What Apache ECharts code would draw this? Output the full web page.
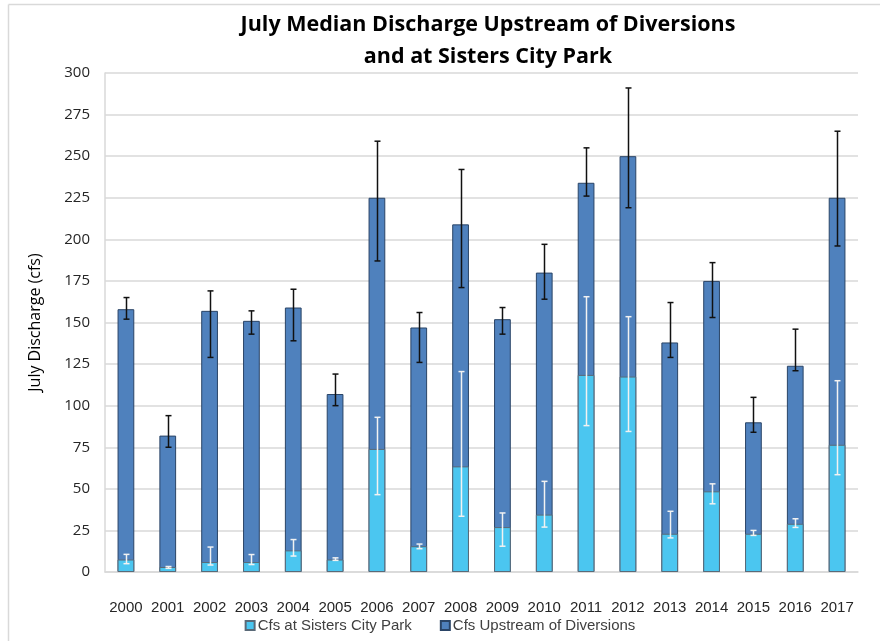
<!DOCTYPE html>
<html>
<head>
<meta charset="utf-8">
<script src="https://cdn.jsdelivr.net/npm/echarts@6/dist/echarts.min.js"></script>
<style>
html,body{margin:0;padding:0;background:#fff;}
#chart{width:880px;height:641px;}
</style>
</head>
<body>
<div id="chart"></div>
<script>
const years = ['2000','2001','2002','2003','2004','2005','2006','2007','2008','2009','2010','2011','2012','2013','2014','2015','2016','2017'];
const upstream = [158, 82, 157, 151, 159, 107, 225, 147, 209, 152, 180, 234, 250, 138, 175, 90, 124, 225];
const upstreamLow = [152, 75, 129, 143, 139, 100, 187, 126, 171, 143, 164, 226, 219, 129, 153, 84, 121, 196];
const upstreamHigh = [165, 94, 169, 157, 170, 119, 259, 156, 242, 159, 197, 255, 291, 162, 186, 105, 146, 265];
const sisters = [7.5, 3, 6, 6, 13, 7.5, 74, 15.5, 63.5, 27, 34.5, 118.5, 117.5, 23, 48.5, 23, 29, 76.5];
const sistersLow = [5, 2.2, 4.2, 4.5, 9.6, 7, 46.5, 14, 33.5, 15.5, 27, 88, 84.5, 20.5, 41, 22, 26.8, 58.5];
const sistersHigh = [10.6, 3.3, 15, 10.5, 19.5, 8.5, 93, 16.8, 120.5, 35.5, 54.5, 165.5, 153.5, 36.5, 53, 25, 32, 115];
const yTicks = [0, 25, 50, 75, 100, 125, 150, 175, 200, 225, 250, 275, 300];

const chart = echarts.init(document.getElementById('chart'));

function errBar(color) {
  return function (params, api) {
    const x = api.value(0);
    const lo = api.coord([x, api.value(1)]);
    const hi = api.coord([x, api.value(2)]);
    const cx = Math.round(lo[0]) + 0.5;
    const hw = 3;
    const style = { stroke: color, lineWidth: 1.5 };
    return {
      type: 'group',
      children: [
        { type: 'line', shape: { x1: cx, y1: hi[1], x2: cx, y2: lo[1] }, style: style },
        { type: 'line', shape: { x1: cx - hw, y1: hi[1], x2: cx + hw, y2: hi[1] }, style: style },
        { type: 'line', shape: { x1: cx - hw, y1: lo[1], x2: cx + hw, y2: lo[1] }, style: style }
      ]
    };
  };
}

const option = {
  backgroundColor: '#ffffff',
  animation: false,
  title: {
    text: 'July Median Discharge Upstream of Diversions\nand at Sisters City Park',
    left: 483,
    textAlign: 'center',
    top: 4,
    textStyle: {
      fontFamily: 'Open Sans',
      fontWeight: 'bold',
      fontSize: 21.5,
      lineHeight: 32,
      color: '#000'
    }
  },
  graphic: [
    { type: 'line', shape: { x1: 8.5, y1: 4.5, x2: 880, y2: 4.5 }, style: { stroke: '#D9D9D9', lineWidth: 1.5 } },
    { type: 'line', shape: { x1: 8.5, y1: 4.5, x2: 8.5, y2: 641 }, style: { stroke: '#D9D9D9', lineWidth: 1.5 } }
  ],
  legend: {
    data: ['Cfs at Sisters City Park', 'Cfs Upstream of Diversions'],
    bottom: 3,
    left: 'center',
    itemWidth: 9,
    itemHeight: 9,
    itemGap: 28,
    icon: 'rect',
    textStyle: { fontFamily: 'Liberation Sans', fontSize: 15, color: '#404040', padding: [0, 0, 0, -2] }
  },
  grid: { left: 105, right: 22, top: 73, bottom: 69, containLabel: false },
  xAxis: {
    type: 'category',
    data: years,
    axisLine: { show: true, lineStyle: { color: '#D9D9D9', width: 1.5 } },
    axisTick: { show: false },
    axisLabel: { interval: 0, fontFamily: 'Liberation Sans', fontSize: 15, color: '#262626', margin: 28 }
  },
  yAxis: {
    type: 'value',
    min: 0,
    max: 300,
    interval: 25,
    name: 'July Discharge (cfs)',
    nameLocation: 'middle',
    nameGap: 62,
    nameTextStyle: { fontFamily: 'Open Sans', fontSize: 16, color: '#000' },
    axisLine: { show: true, lineStyle: { color: '#D9D9D9', width: 1.5 } },
    axisTick: { show: false },
    axisLabel: {
      fontFamily: 'Open Sans', fontSize: 15, color: '#262626', margin: 15,
      formatter: function (v) { return yTicks.indexOf(v) >= 0 ? String(v) : ''; }
    },
    splitLine: { show: true, lineStyle: { color: '#D9D9D9', width: 1.5 } }
  },
  series: [
    {
      name: 'Cfs Upstream of Diversions',
      type: 'bar',
      data: upstream,
      barWidth: '40%',
      barGap: '-100%',
      itemStyle: { color: '#4F81BD', borderColor: '#2A4466', borderWidth: 1 },
      z: 2
    },
    {
      name: 'Cfs at Sisters City Park',
      type: 'bar',
      data: sisters,
      barWidth: '40%',
      barGap: '-100%',
      itemStyle: { color: '#4BC6F0', borderColor: '#5A6A78', borderWidth: 1 },
      z: 3
    },
    {
      name: 'upErr',
      type: 'custom',
      renderItem: errBar('#111111'),
      data: years.map((y, i) => [i, upstreamLow[i], upstreamHigh[i]]),
      encode: { x: 0, y: [1, 2] },
      z: 5,
      silent: true
    },
    {
      name: 'sisErr',
      type: 'custom',
      renderItem: errBar('#F2F2F2'),
      data: years.map((y, i) => [i, sistersLow[i], sistersHigh[i]]),
      encode: { x: 0, y: [1, 2] },
      z: 6,
      silent: true
    }
  ]
};
chart.setOption(option);
</script>
</body>
</html>
